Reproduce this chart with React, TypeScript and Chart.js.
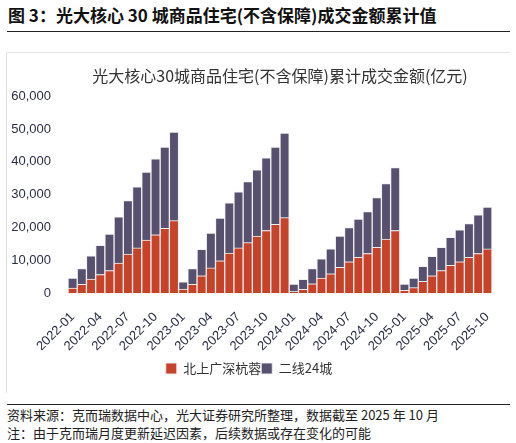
import React, { useEffect, useRef } from "react";
import { Chart, registerables } from "chart.js";

Chart.register(...registerables);

const months: string[] = [];
for (const y of [2022, 2023, 2024, 2025]) {
  const last = y === 2025 ? 10 : 12;
  for (let m = 1; m <= last; m++) months.push(`${y}-${m < 10 ? "0" + m : m}`);
}

// 北上广深杭蓉 cumulative (亿元)
const tier1 = [
  1600, 2700, 4300, 5700, 6900, 9200, 11900, 13800, 16200, 17800, 19800, 22100,
  1300, 2700, 5300, 7700, 9900, 12200, 13800, 15400, 17400, 19100, 21000, 23000,
  500, 1200, 2900, 4600, 5900, 7900, 9600, 10900, 12100, 14000, 16500, 19100,
  900, 1700, 3600, 5300, 6900, 8500, 9600, 10900, 12100, 13500,
];
// 二线24城 cumulative (亿元)
const tier2 = [
  3000, 4800, 7100, 8900, 11100, 14100, 16300, 18600, 20700, 23100, 24700, 27000,
  2200, 4800, 8100, 10600, 13000, 15300, 17100, 18600, 20200, 22100, 23500, 25800,
  2300, 3000, 4600, 5900, 7600, 9500, 10400, 11700, 12800, 15100, 16900, 19200,
  1900, 2900, 4600, 5900, 7100, 8500, 9700, 10300, 11800, 12700,
];

const yTicks = [0, 10000, 20000, 30000, 40000, 50000, 60000];

const FONT = "'Liberation Sans', 'Noto Sans CJK SC', sans-serif";
const CJK = "'Noto Sans CJK SC', 'Liberation Sans', sans-serif";

function ChartBox() {
  const ref = useRef<HTMLCanvasElement | null>(null);
  useEffect(() => {
    if (!ref.current) return;
    const chart = new Chart(ref.current, {
      type: "bar",
      data: {
        labels: months,
        datasets: [
          {
            label: "北上广深杭蓉",
            data: tier1,
            backgroundColor: "#C6432A",
            borderColor: "rgba(240,240,240,0.9)",
            borderWidth: 1,
            stack: "s",
          },
          {
            label: "二线24城",
            data: tier2,
            backgroundColor: "#57506F",
            borderColor: "rgba(240,240,240,0.9)",
            borderWidth: 1,
            stack: "s",
          },
        ],
      },
      options: {
        responsive: false,
        animation: false,
        layout: { padding: { left: 0, right: 18, top: 0, bottom: 8 } },
        datasets: { bar: { categoryPercentage: 1, barPercentage: 1 } },
        plugins: {
          title: {
            display: true,
            text: "光大核心30城商品住宅(不含保障)累计成交金额(亿元)",
            color: "#333",
            font: { family: CJK, size: 16, weight: "normal" },
            padding: { top: 14, bottom: 11 },
            fullSize: false,
          },
          legend: {
            position: "bottom",
            labels: {
              boxWidth: 11,
              boxHeight: 11,
              padding: 0,
              color: "#333",
              font: { family: CJK, size: 13 },
            },
          },
          tooltip: { enabled: false },
        },
        scales: {
          x: {
            stacked: true,
            grid: { display: false },
            border: { display: false },
            ticks: {
              autoSkip: false,
              maxRotation: 45,
              minRotation: 45,
              padding: 8,
              color: "#2a2e45",
              font: { family: FONT, size: 13 },
              callback: (_v: any, i: number) => (i % 3 === 0 ? months[i] : ""),
            },
          },
          y: {
            stacked: true,
            min: 0,
            max: 60000,
            afterFit: (s: any) => {
              s.width = 62;
            },
            afterBuildTicks: (s: any) => {
              s.ticks = yTicks.map((v) => ({ value: v }));
            },
            grid: { display: false },
            border: { display: false },
            ticks: {
              padding: 9,
              color: "#2a2e45",
              font: { family: FONT, size: 13 },
              callback: (v: any) => Number(v).toLocaleString("en-US"),
            },
          },
        },
      },
    });
    return () => chart.destroy();
  }, []);
  return <canvas ref={ref} width={504} height={341} />;
}

export default function App() {
  return (
    <div
      style={{
        position: "fixed",
        left: 0,
        top: 0,
        width: 516,
        height: 443,
        background: "#fff",
        fontFamily: CJK,
      }}
    >
      <div
        style={{
          position: "absolute",
          left: 8,
          top: 3,
          fontSize: 17,
          fontWeight: "bold",
          color: "#111",
          whiteSpace: "nowrap",
          lineHeight: "24px",
        }}
      >
        图 3：光大核心 30 城商品住宅(不含保障)成交金额累计值
      </div>
      <div style={{ position: "absolute", left: 7, top: 31, width: 503, height: 1, background: "#222" }} />
      <div
        style={{
          position: "absolute",
          left: 6,
          top: 52,
          width: 504,
          height: 341,
          borderLeft: "1px solid #ddd",
          borderTop: "1px solid #e6e6e6",
          boxSizing: "border-box",
        }}
      />
      <div style={{ position: "absolute", left: 6, top: 52 }}>
        <ChartBox />
      </div>
      <div style={{ position: "absolute", left: 7, top: 404, width: 503, height: 1, background: "#222" }} />
      <div
        style={{
          position: "absolute",
          left: 7,
          top: 406,
          fontSize: 13,
          color: "#222",
          whiteSpace: "nowrap",
          lineHeight: "18px",
        }}
      >
        资料来源：克而瑞数据中心，光大证券研究所整理，数据截至 2025 年 10 月
      </div>
      <div
        style={{
          position: "absolute",
          left: 7,
          top: 424,
          fontSize: 13,
          color: "#222",
          whiteSpace: "nowrap",
          lineHeight: "18px",
        }}
      >
        注：由于克而瑞月度更新延迟因素，后续数据或存在变化的可能
      </div>
    </div>
  );
}
